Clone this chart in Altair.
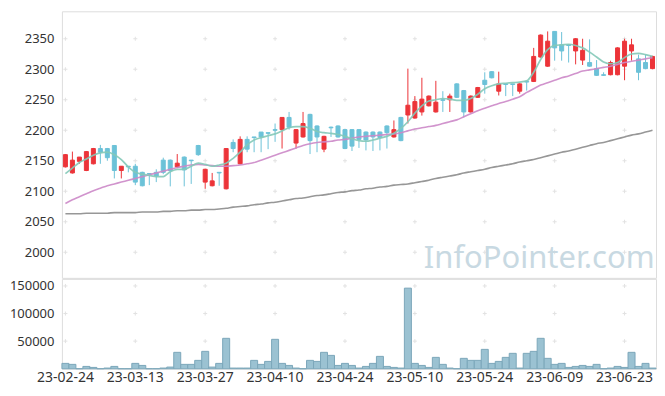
import altair as alt
import pandas as pd

dates = [
    "23-02-24", "23-02-27", "23-02-28", "23-03-02", "23-03-03", "23-03-06", "23-03-07", "23-03-08", "23-03-09", "23-03-10",
    "23-03-13", "23-03-14", "23-03-15", "23-03-16", "23-03-17", "23-03-20", "23-03-21", "23-03-22", "23-03-23", "23-03-24",
    "23-03-27", "23-03-28", "23-03-29", "23-03-30", "23-03-31", "23-04-03", "23-04-04", "23-04-05", "23-04-06", "23-04-07",
    "23-04-10", "23-04-11", "23-04-12", "23-04-13", "23-04-14", "23-04-17", "23-04-18", "23-04-19", "23-04-20", "23-04-21",
    "23-04-24", "23-04-25", "23-04-26", "23-04-27", "23-04-28", "23-05-02", "23-05-03", "23-05-04", "23-05-08", "23-05-09",
    "23-05-10", "23-05-11", "23-05-12", "23-05-15", "23-05-16", "23-05-17", "23-05-18", "23-05-19", "23-05-22", "23-05-23",
    "23-05-24", "23-05-25", "23-05-26", "23-05-30", "23-05-31", "23-06-01", "23-06-02", "23-06-05", "23-06-07", "23-06-08",
    "23-06-09", "23-06-12", "23-06-13", "23-06-14", "23-06-15", "23-06-16", "23-06-19", "23-06-20", "23-06-21", "23-06-22",
    "23-06-23", "23-06-26", "23-06-27", "23-06-28", "23-06-29",
]

open_ = [
    2140, 2130, 2149, 2134, 2145, 2170, 2170, 2175, 2134, 2141,
    2141, 2131, 2129, 2131, 2151, 2151, 2140, 2156, 2151, 2175,
    2115, 2109, 2131, 2104, 2180, 2145, 2185, 2189, 2197, 2196,
    2201, 2201, 2221, 2179, 2189, 2226, 2207, 2169, 2205, 2207,
    2201, 2201, 2201, 2197, 2197, 2197, 2207, 2189, 2221, 2225,
    2220, 2230, 2240, 2230, 2250, 2250, 2276, 2265, 2230, 2254,
    2282, 2296, 2264, 2276, 2276, 2264, 2280, 2280, 2320, 2305,
    2362, 2340, 2340, 2330, 2315, 2311, 2301, 2291, 2291, 2291,
    2305, 2330, 2317, 2311, 2301,
]
close = [
    2160, 2151, 2156, 2165, 2170, 2164, 2155, 2134, 2141, 2140,
    2115, 2109, 2128, 2125, 2131, 2134, 2146, 2135, 2150, 2160,
    2136, 2117, 2130, 2170, 2170, 2185, 2169, 2188, 2189, 2195,
    2200, 2221, 2205, 2201, 2211, 2183, 2189, 2190, 2204, 2189,
    2170, 2174, 2185, 2184, 2189, 2188, 2196, 2201, 2183, 2241,
    2247, 2251, 2256, 2246, 2249, 2256, 2254, 2230, 2256, 2270,
    2275, 2286, 2276, 2275, 2275, 2276, 2279, 2321, 2356, 2346,
    2335, 2330, 2339, 2350, 2331, 2305, 2290, 2290, 2311, 2335,
    2346, 2340, 2295, 2301, 2321,
]
high = [
    2161, 2165, 2156, 2166, 2171, 2176, 2171, 2175, 2141, 2141,
    2145, 2132, 2129, 2136, 2155, 2152, 2161, 2157, 2151, 2176,
    2137, 2130, 2131, 2170, 2185, 2190, 2190, 2189, 2197, 2196,
    2211, 2221, 2230, 2202, 2230, 2227, 2208, 2191, 2206, 2208,
    2202, 2202, 2202, 2198, 2198, 2198, 2208, 2216, 2222, 2301,
    2256, 2286, 2257, 2281, 2264, 2260, 2277, 2266, 2257, 2271,
    2295, 2297, 2296, 2276, 2276, 2277, 2280, 2335, 2357, 2362,
    2362, 2361, 2340, 2351, 2350, 2349, 2315, 2295, 2314, 2336,
    2350, 2350, 2324, 2324, 2322,
]
low = [
    2139, 2129, 2145, 2133, 2144, 2145, 2150, 2121, 2121, 2131,
    2110, 2108, 2110, 2115, 2128, 2108, 2138, 2108, 2112, 2158,
    2104, 2108, 2109, 2103, 2164, 2144, 2164, 2164, 2164, 2169,
    2181, 2170, 2201, 2170, 2188, 2161, 2164, 2164, 2189, 2188,
    2169, 2166, 2171, 2167, 2166, 2167, 2170, 2188, 2182, 2211,
    2219, 2224, 2239, 2229, 2230, 2230, 2253, 2221, 2229, 2253,
    2260, 2285, 2257, 2256, 2256, 2260, 2265, 2279, 2319, 2304,
    2314, 2314, 2311, 2308, 2307, 2304, 2289, 2289, 2290, 2290,
    2282, 2314, 2282, 2300, 2300,
]
volume = [
    9700, 7900, 0, 4200, 2400, 0, 1200, 4200, 0, 0,
    9700, 6000, 0, 0, 1200, 3000, 29700, 7900, 7900, 15150,
    31500, 3000, 9700, 55100, 1200, 1200, 1200, 15150, 7900, 13300,
    53300, 9700, 6000, 1200, 0, 15150, 13300, 29700, 24200, 6000,
    9700, 6000, 1200, 4200, 9700, 22400, 4200, 2400, 1200, 146000,
    9700, 6000, 2400, 20600, 7900, 1200, 0, 18800, 15150, 15150,
    35100, 9700, 13300, 20600, 27900, 1200, 27900, 31500, 55100, 18800,
    7900, 9700, 2400, 4200, 6000, 4200, 7900, 0, 1200, 4200,
    2400, 29700, 4200, 9700, 1200,
]
ma5 = [
    2129, 2138, 2147, 2153, 2159, 2163, 2164, 2160, 2152, 2140,
    2131, 2128, 2126, 2124, 2124, 2132, 2136, 2136, 2141, 2146,
    2144, 2141, 2143, 2146, 2154, 2164, 2176, 2184, 2188, 2191,
    2194, 2199, 2204, 2206, 2206, 2203, 2198, 2196, 2195, 2193,
    2190, 2186, 2183, 2182, 2184, 2187, 2190, 2195, 2203, 2214,
    2228, 2240, 2248, 2250, 2252, 2251, 2249, 2249, 2252, 2259,
    2268, 2273, 2276, 2277, 2278, 2279, 2281, 2295, 2316, 2332,
    2339, 2340, 2341, 2339, 2335, 2328, 2320, 2312, 2309, 2311,
    2319, 2325, 2326, 2324, 2321,
]
ma20 = [
    2080, 2086, 2091, 2096, 2101, 2105, 2109, 2112, 2115, 2118,
    2121, 2124, 2127, 2130, 2133, 2136, 2139, 2141, 2143, 2144,
    2143, 2142, 2141, 2141, 2142, 2143, 2145, 2147, 2151, 2155,
    2159, 2163, 2167, 2171, 2175, 2178, 2180, 2181, 2182, 2184,
    2185, 2187, 2189, 2190, 2191, 2192, 2193, 2194, 2196, 2199,
    2202, 2204, 2206, 2208, 2211, 2214, 2217, 2222, 2227, 2232,
    2236, 2240, 2244, 2247, 2251, 2255, 2262, 2268, 2274, 2278,
    2282, 2286, 2289, 2293, 2297, 2299, 2301, 2303, 2305, 2308,
    2311, 2313, 2315, 2317, 2319,
]
ma60 = [
    2063, 2063, 2063, 2064, 2064, 2064, 2064, 2065, 2065, 2065,
    2065, 2066, 2066, 2066, 2067, 2067, 2068, 2068, 2069, 2069,
    2070, 2070, 2071, 2072, 2074, 2075, 2076, 2078, 2079, 2081,
    2082, 2084, 2086, 2088, 2089, 2091, 2093, 2094, 2096, 2098,
    2099, 2101, 2102, 2104, 2105, 2107, 2108, 2110, 2111, 2112,
    2114, 2116, 2118, 2121, 2123, 2125, 2127, 2130, 2132, 2134,
    2136, 2139, 2141, 2143, 2145, 2148, 2150, 2152, 2155, 2158,
    2161, 2164, 2166, 2169, 2172, 2175, 2178, 2180, 2183, 2186,
    2189, 2192, 2194, 2197, 2200,
]

price_ticks = [2000, 2050, 2100, 2150, 2200, 2250, 2300, 2350]
volume_ticks = [50000, 100000, 150000]
date_ticks = dates[::10]

RED = "#ec3439"
BLUE = "#6cc2d8"

df = pd.DataFrame({
    "d": dates, "open": open_, "close": close, "high": high, "low": low,
    "vol": volume, "ma5": ma5, "ma20": ma20, "ma60": ma60,
})
df["dir"] = ["up" if c >= o else "down" for o, c in zip(open_, close)]

xs = alt.Scale(domain=dates, paddingInner=0, paddingOuter=0)
x_none = alt.X("d:N", scale=xs, axis=None)
dir_scale = alt.Scale(domain=["up", "down"], range=[RED, BLUE])
color = alt.Color("dir:N", scale=dir_scale, legend=None)

W = 595
H1 = 267
H2 = 90

yprice = alt.Scale(domain=[1958, 2395], zero=False, nice=False)
yvol = alt.Scale(domain=[0, 162800], nice=False, zero=True)

base = alt.Chart(df)


def price_axis():
    return alt.Axis(values=price_ticks, format="d", labelOverlap=False, ticks=False, domain=False,
                    grid=False, labelFontSize=13, labelColor="#333", labelFont="Noto Sans",
                    labelPadding=8, minExtent=53, maxExtent=53, title=None)


def vol_axis():
    return alt.Axis(values=volume_ticks, format="d", labelOverlap=False, ticks=False, domain=False,
                    grid=False, labelFontSize=13, labelColor="#333", labelFont="Noto Sans",
                    labelPadding=8, minExtent=53, maxExtent=53, title=None)


def x_axis():
    return alt.Axis(values=date_ticks, labelAngle=0, ticks=False, domain=False, grid=False,
                    labelFontSize=14, labelColor="#333", labelFont="Noto Sans",
                    labelPadding=2, title=None)


grid_price = pd.DataFrame([(d, v) for d in date_ticks for v in price_ticks], columns=["d", "v"])
grid_vol = pd.DataFrame([(d, v) for d in date_ticks for v in volume_ticks], columns=["d", "v"])

cross_shape = "M-1,0L1,0M0,-1L0,1"
cross_price = alt.Chart(grid_price).mark_point(shape=cross_shape, filled=False, size=16,
                                               color="#e2e2e2", strokeWidth=1, opacity=1).encode(
    x=x_none, y=alt.Y("v:Q", scale=yprice, axis=price_axis()))

wick = base.mark_rule(strokeWidth=1).encode(
    x=x_none,
    y=alt.Y("low:Q", scale=yprice, axis=price_axis()),
    y2="high:Q",
    color=color,
)
body = base.mark_bar(size=4, strokeWidth=1).encode(
    x=x_none,
    y=alt.Y("open:Q", scale=yprice, axis=price_axis()),
    y2="close:Q",
    color=color,
    stroke=alt.Stroke("dir:N", scale=dir_scale, legend=None),
)

line_ma60 = base.mark_line(color="#979797", strokeWidth=1.6, interpolate="monotone").encode(
    x=x_none, y=alt.Y("ma60:Q", scale=yprice, axis=price_axis()))
line_ma20 = base.mark_line(color="#cc88c8", strokeWidth=1.6, interpolate="monotone", opacity=0.9).encode(
    x=x_none, y=alt.Y("ma20:Q", scale=yprice, axis=price_axis()))
line_ma5 = base.mark_line(color="#84c9b8", strokeWidth=1.7, interpolate="monotone", opacity=0.9).encode(
    x=x_none, y=alt.Y("ma5:Q", scale=yprice, axis=price_axis()))

watermark = alt.Chart(pd.DataFrame({"t": ["InfoPointer.com"]})).mark_text(
    fontSize=31, font="Noto Sans", color="#c8d9e2", align="center", baseline="alphabetic"
).encode(text="t:N", x=alt.value(478), y=alt.value(257))

top = alt.layer(cross_price, watermark, line_ma60, wick, body, line_ma20, line_ma5).properties(width=W, height=H1)

cross_vol = alt.Chart(grid_vol).mark_point(shape=cross_shape, filled=False, size=16,
                                           color="#e2e2e2", strokeWidth=1, opacity=1).encode(
    x=alt.X("d:N", scale=xs, axis=x_axis()), y=alt.Y("v:Q", scale=yvol, axis=vol_axis()))
vol_bars = base.mark_bar(color="#9bc2d2", stroke="#7ba7ba", strokeWidth=1).encode(
    x=alt.X("d:N", scale=xs, axis=x_axis()),
    y=alt.Y("vol:Q", scale=yvol, axis=vol_axis()),
)
bottom = alt.layer(cross_vol, vol_bars).properties(width=W, height=H2)

chart = alt.vconcat(top, bottom, spacing=-1).properties(
    padding={"left": 0, "top": 2, "right": 0, "bottom": 0}
).configure_view(stroke="#e4e4e4", strokeWidth=1).configure(background="white")

chart.save("out.html", embed_options={"renderer": "svg", "actions": False})
